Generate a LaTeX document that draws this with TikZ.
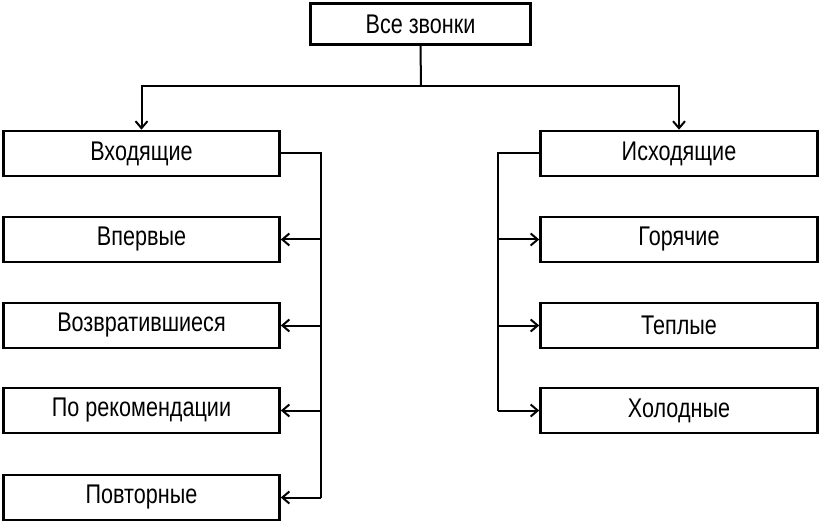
\documentclass[tikz,border=0pt]{standalone}
\usetikzlibrary{arrows.meta}
\usepackage{fontspec}
\setmainfont{Liberation Sans}[FakeStretch=0.8]
\begin{document}
\begin{tikzpicture}[x=1pt,y=-1pt,
 box/.style={draw,line width=2.6pt,inner sep=0pt,font=\fontsize{27}{30}\selectfont},
 ln/.style={line width=2pt},
 ar/.style={ln,-{Straight Barb[length=7pt,width=12pt]}}]
\useasboundingbox (0,0) rectangle (821,526);
\newcommand\bx[5]{\node[box,minimum width=#3,minimum height=#4] (#1) at (#2) {#5};}
\bx{all}{420.5,24}{220pt}{41pt}{Все звонки}
\bx{inc}{141.5,153.5}{276pt}{45pt}{Входящие}
\bx{a1}{141.5,239.5}{276pt}{45pt}{Впервые}
\bx{a2}{141.5,325.5}{276pt}{45pt}{Возвратившиеся}
\bx{a3}{141.5,410.5}{276pt}{45pt}{По рекомендации}
\bx{a4}{141.5,497.5}{276pt}{45pt}{Повторные}
\bx{outg}{679,153.5}{277pt}{45pt}{Исходящие}
\bx{b1}{679,239.5}{277pt}{45pt}{Горячие}
\bx{b2}{679,325.5}{277pt}{45pt}{Теплые}
\bx{b3}{679,410.5}{277pt}{45pt}{Холодные}
\coordinate (j) at (421,86);
\draw[ln] (all.south) -- (j);
\draw[ar] (j) -| (inc.north);
\draw[ar] (j) -| (outg.north);
\coordinate (lt) at (321,153.5);
\draw[ln] (inc.east) -- (lt) -- (321,497.5);
\foreach \n in {a1,a2,a3,a4} \draw[ar] (321,0 |- \n.east) -- (\n.east);
\coordinate (rt) at (498,153.5);
\draw[ln] (outg.west) -- (rt) -- (498,410.5);
\foreach \n in {b1,b2,b3} \draw[ar] (498,0 |- \n.west) -- (\n.west);
\end{tikzpicture}
\end{document}
